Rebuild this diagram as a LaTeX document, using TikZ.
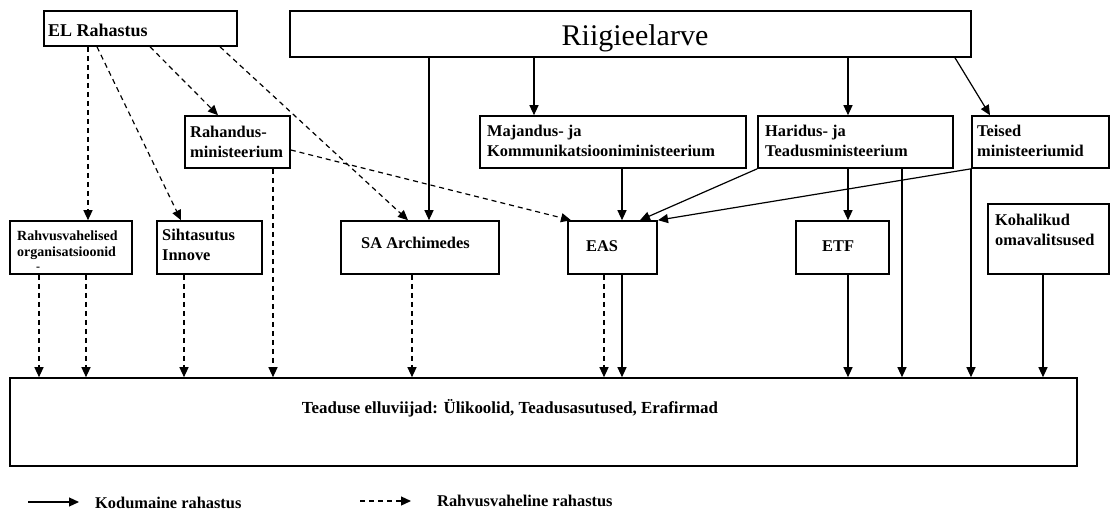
\documentclass[tikz,border=0pt]{standalone}
\usepackage{fontspec}
\setmainfont{Liberation Serif}
\usetikzlibrary{arrows.meta}
\tikzset{
  box/.style={draw, line width=1.6pt, inner sep=0pt, rectangle},
  lbl/.style={anchor=west, inner sep=0pt, align=left, font=\bfseries\fontsize{16.4}{19.5}\selectfont},
  slbl/.style={anchor=west, inner sep=0pt, align=left, font=\bfseries\fontsize{14}{15.5}\selectfont},
  tip/.style={-{Triangle[length=10pt,width=9pt]}},
  sol/.style={tip, line width=1.2pt},
  dsh/.style={tip, line width=1.2pt, dash pattern=on 5pt off 4pt},
}
\begin{document}
\begin{tikzpicture}[x=1pt,y=-1pt]
\useasboundingbox (0,0) rectangle (1111,511);
% boxes
\node[box, minimum width=193pt, minimum height=35pt] (EL) at (140.5,28.5) {};
\node[box, minimum width=681pt, minimum height=46pt] (RE) at (630.5,34) {};
\node[box, minimum width=105pt, minimum height=52pt] (RM) at (237.5,142) {};
\node[box, minimum width=266pt, minimum height=52pt] (MK) at (613,142) {};
\node[box, minimum width=195pt, minimum height=52pt] (HT) at (855.5,142) {};
\node[box, minimum width=137pt, minimum height=52pt] (TM) at (1040.5,142) {};
\node[box, minimum width=122pt, minimum height=53pt] (RO) at (71,247.5) {};
\node[box, minimum width=105pt, minimum height=53pt] (SI) at (209.5,247.5) {};
\node[box, minimum width=158pt, minimum height=53pt] (SA) at (420,247.5) {};
\node[box, minimum width=89pt, minimum height=53pt] (EAS) at (612.5,247.5) {};
\node[box, minimum width=93pt, minimum height=53pt] (ETF) at (842.5,247.5) {};
\node[box, minimum width=121pt, minimum height=70pt] (KO) at (1048.5,239) {};
\node[box, minimum width=1067pt, minimum height=88pt] (TE) at (543.5,422) {};
% texts
\node[anchor=west, inner sep=0pt, font=\bfseries\fontsize{18}{20}\selectfont] (tEL) at (48,30) {EL Rahastus};
\node[inner sep=0pt, font=\fontsize{30}{32}\selectfont] (tRE) at (635,38) {Riigieelarve};
\node[lbl] (tRM) at (190,142) {Rahandus-\\ministeerium};
\node[lbl] (tMK) at (487,141) {Majandus- ja\\Kommunikatsiooniministeerium};
\node[lbl] (tHT) at (765,141) {Haridus- ja\\Teadusministeerium};
\node[lbl] (tTM) at (977,141) {Teised\\ministeeriumid};
\node[slbl] (tRO) at (17,245) {Rahvusvahelised\\organisatsioonid};
\node[anchor=west, inner sep=0pt, font=\bfseries\fontsize{12}{12}\selectfont] (tROd) at (36,269) {-};
\node[lbl] (tSI) at (162,245) {Sihtasutus\\Innove};
\node[lbl] (tSA) at (361,243) {SA Archimedes};
\node[lbl] (tEAS) at (586,246) {EAS};
\node[lbl] (tETF) at (822,246) {ETF};
\node[lbl] (tKO) at (995,230) {Kohalikud\\omavalitsused};
\node[lbl, anchor=center, font=\bfseries\fontsize{16.9}{19.5}\selectfont] (tTE) at (510,408) {Teaduse elluviijad: Ülikoolid, Teadusasutused, Erafirmad};
% EL dashed arrows
\draw[dsh] (EL.south -| 88,0) -- (RO.north -| 88,0);
\draw[dsh] (EL.south -| 97,0) -- (SI.north -| 181,0);
\draw[dsh] (EL.south -| 150,0) -- (RM.north -| 218,0);
\draw[dsh] (EL.south -| 220,0) -- (SA.north -| 408,0);
% Riigieelarve solid arrows
\draw[sol] (RE.south -| 429,0) -- (SA.north -| 429,0);
\draw[sol] (RE.south -| 534,0) -- (MK.north -| 534,0);
\draw[sol] (RE.south -| 848,0) -- (HT.north -| 848,0);
\draw[sol] (RE.south -| 955,0) -- (TM.north -| 990,0);
% ministries
\draw[dsh] (RM.east |- 0,150) -- (EAS.north -| 571,0);
\draw[dsh] (RM.south -| 273,0) -- (TE.north -| 273,0);
\draw[sol] (MK.south -| 622,0) -- (EAS.north -| 622,0);
\draw[sol] (HT.south west) -- (EAS.north -| 640,0);
\draw[sol] (TM.south west) -- (EAS.north -| 658,0);
\draw[sol] (HT.south -| 848,0) -- (ETF.north -| 848,0);
\draw[sol] (HT.south -| 902,0) -- (TE.north -| 902,0);
\draw[sol] (TM.south -| 971,0) -- (TE.north -| 971,0);
% second row to Teaduse
\draw[dsh] (RO.south -| 39,0) -- (TE.north -| 39,0);
\draw[dsh] (RO.south -| 86,0) -- (TE.north -| 86,0);
\draw[dsh] (SI.south -| 184,0) -- (TE.north -| 184,0);
\draw[dsh] (SA.south -| 412,0) -- (TE.north -| 412,0);
\draw[dsh] (EAS.south -| 604,0) -- (TE.north -| 604,0);
\draw[sol] (EAS.south -| 622,0) -- (TE.north -| 622,0);
\draw[sol] (ETF.south -| 848,0) -- (TE.north -| 848,0);
\draw[sol] (KO.south -| 1043,0) -- (TE.north -| 1043,0);
% legend
\coordinate (l1a) at (28,502);
\coordinate (l1b) at (79,502);
\coordinate (l2a) at (360,501);
\coordinate (l2b) at (411,501);
\draw[sol] (l1a) -- (l1b);
\draw[dsh] (l2a) -- (l2b);
\node[lbl] (k1) at (95,503) {Kodumaine rahastus};
\node[lbl] (k2) at (437,501) {Rahvusvaheline rahastus};
\end{tikzpicture}
\end{document}
